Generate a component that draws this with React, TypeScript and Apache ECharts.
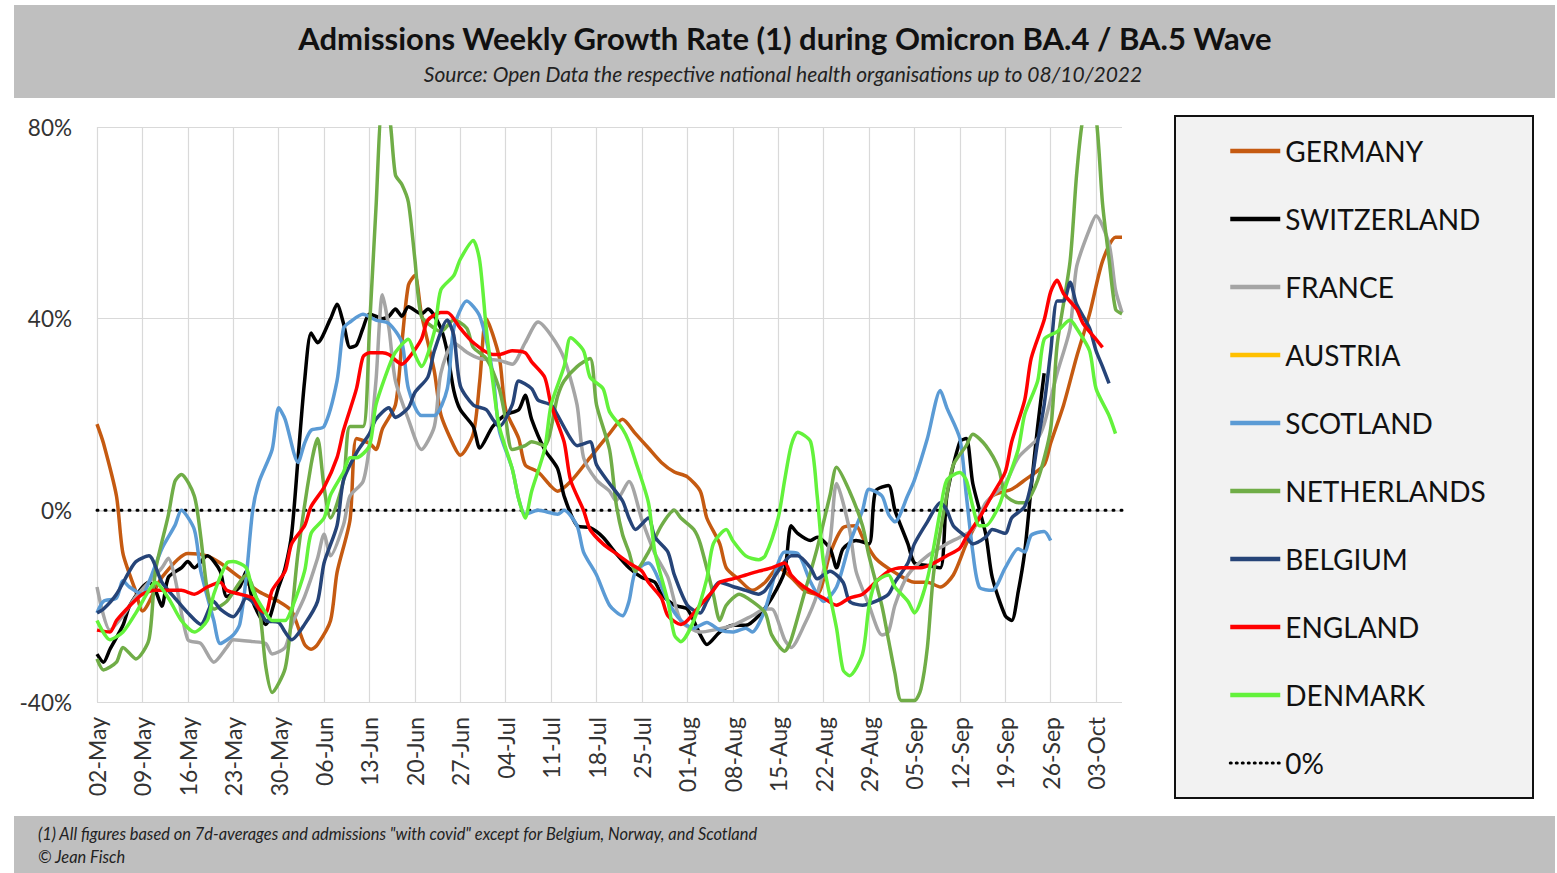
import React, { useEffect, useRef } from "react";
import * as echarts from "echarts";

// Weekly tick labels (one every 7 days, day 0 = 02-May)
const tickLabels = [
  "02-May", "09-May", "16-May", "23-May", "30-May", "06-Jun", "13-Jun", "20-Jun",
  "27-Jun", "04-Jul", "11-Jul", "18-Jul", "25-Jul", "01-Aug", "08-Aug", "15-Aug",
  "22-Aug", "29-Aug", "05-Sep", "12-Sep", "19-Sep", "26-Sep", "03-Oct",
];
const dayCount = 159;

// [day index, weekly growth rate %]
const germany = [
  [0, 18], [1, 14], [3, 3], [4, -9], [6, -17], [7, -21], [10, -14], [14, -9], [17, -9.5], [19, -11],
  [22, -14], [25, -17], [28, -19], [30, -21], [32, -28], [33, -29], [34, -28], [36, -23], [37, -13],
  [39, -2], [40, 15], [42, 14], [43, 12.7], [44, 17], [46, 22], [47, 35], [48, 47], [49, 49], [50, 41],
  [52, 29], [53, 20], [55, 13.5], [56, 11.5], [58, 16], [59, 27], [60, 40], [62, 32], [63, 21],
  [65, 15], [66, 9.5], [68, 8], [70, 5], [71, 4], [73, 6], [76, 11], [79, 16], [81, 19], [83, 16],
  [85, 13], [87, 10], [89, 8], [91, 7], [93, 4], [94, -1.6], [96, -7], [97, -12], [99, -14.5],
  [101, -16.7], [103, -15], [105, -12], [107, -14], [109, -16.7], [111, -17.5], [113, -9],
  [115, -3.6], [117, -3.2], [118, -5.6], [120, -10], [123, -13], [126, -15], [128, -15], [130, -16],
  [132, -13.5], [134, -7], [136, -1.6], [138, 3], [141, 4.4], [143, 6.3], [146, 9.5], [147, 14],
  [149, 22], [151, 32], [153, 41], [155, 52], [157, 57], [158, 57],
];
const switzerland = [
  [0, -30], [1, -31.7], [2, -29], [4, -24], [5, -20], [7, -16], [8, -15], [9, -16.7], [10, -20],
  [11, -14], [13, -12], [14, -10.7], [15, -12], [17, -9.5], [19, -12.7], [20, -18], [22, -16],
  [23, -12.7], [24, -19], [26, -23.8], [28, -16], [29, -12], [30, -5], [31, 11], [32, 27], [33, 37],
  [34, 35], [36, 40], [37, 43], [38, 39], [39, 34], [40, 34.5], [41, 38], [42, 41], [44, 40],
  [45, 40.5], [46, 42], [47, 40.5], [48, 42.5], [50, 41], [51, 42], [53, 38], [54, 33], [55, 25],
  [56, 21], [58, 17.5], [59, 13], [61, 17.5], [63, 20], [65, 21], [66, 24], [67, 19], [69, 12.7],
  [71, 8.7], [72, 3], [74, -3.2], [76, -3.6], [78, -5.6], [80, -9], [82, -12], [84, -14], [86, -15],
  [87, -17.5], [89, -19.8], [91, -20.6], [93, -26], [94, -28], [96, -25.4], [98, -24], [100, -24],
  [102, -22], [104, -18.3], [106, -12.7], [107, -3.2], [108, -4.8], [110, -6.3], [111, -5.6],
  [113, -8], [114, -12], [115, -8], [117, -6.3], [119, -7], [120, 4], [122, 5.2], [123, 0],
  [125, -7], [126, -11], [128, -11.5], [130, -12], [131, 3], [133, 14.3], [134, 15], [135, 5.6],
  [137, -5], [138, -14], [140, -22], [141, -23], [142, -17], [143, -8.7], [144, 4.8], [145, 17.5],
  [146, 28.6],
];
const france = [
  [0, -16], [2, -25], [4, -22], [6, -18], [8, -15], [10, -12], [11, -10], [12, -14], [14, -27],
  [16, -27.8], [18, -31.7], [20, -28.6], [21, -27], [24, -27.4], [26, -27.8], [27, -30], [29, -28.6],
  [30, -24], [32, -18], [34, -10], [35, -5], [36, -9.5], [38, -3], [39, 3], [41, 6], [42, 13.5],
  [43, 27], [44, 45], [45, 38], [46, 27], [48, 19], [50, 12.7], [52, 17.5], [53, 28.6], [55, 35],
  [57, 33], [59, 31.7], [62, 31.3], [64, 30.5], [66, 35], [68, 39.3], [70, 36.5], [72, 31.7],
  [74, 22], [75, 11], [77, 6.3], [79, 4], [80, 2], [82, 6], [84, -2], [86, -9], [88, -14], [90, -23],
  [93, -25.4], [95, -25], [98, -24], [101, -22], [103, -20.6], [104, -20.6], [106, -27], [107, -28.6],
  [109, -24], [111, -17.5], [113, -6.3], [114, 5.6], [116, -4], [117, -12.7], [119, -19.8],
  [121, -26], [122, -25.4], [123, -19.8], [125, -13.5], [128, -9.5], [131, -7], [133, -5.6],
  [135, -4], [137, 1.6], [140, 5.6], [142, 11], [145, 15], [146, 18], [148, 28.6], [150, 38],
  [151, 50.8], [153, 58.7], [154, 61.5], [156, 55.6], [157, 46], [158, 41.3],
];
const austria: number[][] = [];
const scotland = [
  [0, -21.4], [1, -19], [3, -18.3], [4, -14.7], [5, -16], [7, -17.5], [8, -15], [10, -8], [12, -3.2],
  [13, 0], [15, -4], [16, -12.7], [18, -23], [19, -27.8], [21, -26], [22, -23.8], [23, -14], [24, 0],
  [25, 6], [27, 12.7], [28, 21.4], [29, 19], [31, 10], [32, 14], [33, 16.7], [35, 17.5], [37, 27],
  [38, 38], [39, 39.3], [41, 40.9], [43, 39.7], [45, 39], [47, 35], [48, 25.4], [50, 19.8],
  [52, 19.8], [54, 25.4], [55, 38], [57, 43.7], [59, 40.5], [61, 28.6], [62, 16.7], [64, 8.7],
  [65, 2.4], [66, -0.8], [68, 0], [71, -0.8], [72, 0], [74, -3.2], [75, -8.7], [77, -13.5],
  [79, -19.8], [81, -22], [82, -19], [83, -12.7], [85, -11], [86, -12.7], [88, -19], [90, -23],
  [92, -24.6], [94, -23.4], [96, -25], [98, -25.4], [100, -24.6], [101, -25.4], [103, -20.6],
  [105, -11], [106, -8.7], [108, -9], [110, -15], [112, -19], [114, -16], [116, -7], [118, 0],
  [119, 4.4], [121, 3], [122, -0.8], [123, -2.4], [125, 3.2], [126, 6.3], [128, 15], [130, 25],
  [131, 21.4], [133, 15], [134, 3.2], [135, -8.7], [136, -16], [138, -16.7], [140, -12], [142, -8],
  [143, -8.7], [144, -5.2], [146, -4.4], [147, -6.3],
];
const netherlands = [
  [0, -31], [1, -33.3], [3, -31.7], [4, -28.6], [6, -31], [8, -27], [9, -12.7], [11, -1], [12, 6],
  [13, 7.5], [15, 3], [16, -5.6], [17, -16.7], [18, -20.6], [20, -19], [22, -15], [23, -13.5],
  [25, -20.6], [26, -32.5], [27, -38], [29, -33], [30, -22], [31, -8.7], [33, 9.5], [34, 15],
  [35, 4.8], [36, -1.6], [38, 6.3], [39, 17.5], [41, 17.5], [42, 38], [43, 63], [44, 84], [45, 83],
  [46, 70], [47, 68], [48, 64.3], [49, 52.4], [50, 40.5], [52, 38], [53, 37.3], [55, 39.7], [57, 38],
  [58, 34], [60, 31.7], [62, 25.4], [63, 19], [64, 12.7], [66, 13.5], [67, 14.3], [69, 13.5],
  [71, 23.8], [72, 27], [74, 30], [76, 31.7], [77, 22], [79, 12.7], [80, 1.6], [81, -5], [82, -8.7],
  [83, -12.7], [85, -8.7], [87, -3.2], [89, 0], [90, -1.6], [92, -4], [93, -7], [95, -17.5],
  [96, -23], [97, -19.8], [99, -17.5], [101, -19], [103, -21.4], [104, -26], [106, -29.4],
  [107, -27], [109, -17.5], [111, -8], [113, 3.2], [114, 9], [116, 4], [118, -3.2], [119, -9.5],
  [121, -20], [122, -27], [123, -34], [124, -39.7], [126, -39.7], [127, -37.3], [128, -28.6],
  [129, -12.7], [131, 3.2], [132, 9.5], [134, 13.5], [135, 15.9], [137, 13.5], [139, 8.7], [140, 3.2],
  [142, 1.6], [143, 1.6], [145, 6.3], [147, 17], [148, 34.5], [150, 52], [151, 70], [152, 82],
  [153, 84], [154, 82], [155, 64], [156, 52.4], [157, 42], [158, 41],
];
const belgium = [
  [0, -21.4], [1, -20.6], [3, -17.5], [5, -12.7], [6, -10.7], [8, -9.5], [10, -15], [12, -18.3],
  [14, -21.4], [16, -23.8], [18, -19], [19, -20.6], [21, -22.2], [22, -20.6], [23, -18.3],
  [25, -20.6], [26, -23], [28, -23.4], [29, -25.4], [30, -27], [32, -23.8], [34, -19], [35, -11],
  [37, -3.2], [38, 6.3], [40, 12], [42, 16], [43, 19], [45, 21.4], [46, 19.4], [48, 21.4], [49, 24.6],
  [51, 27.8], [52, 33.3], [54, 39.7], [55, 36.5], [56, 26], [58, 22], [60, 21], [61, 19], [62, 17.5],
  [64, 22], [65, 27], [67, 25.4], [68, 23], [70, 22], [71, 19.8], [73, 15], [74, 13.5], [76, 14.3],
  [77, 9.5], [79, 5.6], [81, 2], [82, -1.6], [83, -4], [85, -1.6], [86, -5.6], [88, -8.7], [89, -13.5],
  [91, -19.8], [93, -21.4], [94, -19], [96, -15], [98, -15.9], [100, -16.7], [102, -17.5],
  [103, -16.7], [105, -12.7], [107, -9.5], [108, -9.5], [110, -12], [111, -14.3], [113, -12.7],
  [115, -15], [116, -19], [118, -19.8], [120, -19], [122, -17.5], [123, -15], [125, -11], [126, -7],
  [128, -2.4], [130, 1.6], [131, 0], [132, -3.2], [134, -5.6], [135, -7], [137, -5.6], [138, -4],
  [140, -4.8], [141, -1.6], [143, 0.8], [144, 5.6], [145, 14.3], [146, 22], [147, 33], [148, 43.7],
  [149, 43.7], [150, 47.6], [151, 43], [153, 38], [154, 33.3], [155, 30], [156, 26.5],
];
const england = [
  [0, -25], [2, -25.4], [3, -23], [5, -20], [7, -17.5], [9, -16.7], [11, -16.7], [13, -16.7],
  [15, -17.5], [17, -16], [19, -15], [20, -16.7], [22, -17.5], [24, -18.3], [25, -20.6], [26, -21.4],
  [27, -16.7], [29, -12.7], [30, -7], [32, -3.2], [33, 0.8], [35, 4.8], [37, 11], [38, 16.7],
  [40, 25.4], [41, 32], [42, 32.9], [44, 32.9], [45, 32.5], [47, 30.5], [48, 31.7], [50, 35.7],
  [51, 39.7], [53, 41.3], [54, 41.3], [56, 38], [58, 35], [61, 32.5], [62, 32.5], [64, 33.3],
  [66, 32.9], [67, 31], [69, 27.8], [70, 22], [72, 14.3], [73, 6.3], [75, 0], [76, -4], [78, -7],
  [80, -9], [82, -11], [84, -12.7], [85, -15], [87, -18.3], [88, -22], [90, -23.8], [91, -23],
  [93, -19.8], [95, -16.7], [96, -15], [98, -14.3], [100, -13.5], [102, -12.7], [104, -12],
  [106, -11], [107, -13.5], [109, -16], [112, -18.3], [114, -19.8], [116, -18.3], [118, -17.5],
  [120, -15], [122, -12.7], [124, -12], [127, -12], [129, -11], [131, -9.5], [133, -7.9],
  [134, -5.6], [136, -1.6], [138, 3.2], [140, 8], [141, 14.3], [143, 23], [144, 31.7], [146, 39.7],
  [147, 45.6], [148, 48], [149, 45.2], [151, 42], [152, 39], [154, 35.7], [155, 34],
];
const denmark = [
  [0, -23], [2, -27], [4, -25.4], [6, -21.4], [8, -16.7], [9, -15], [11, -18.3], [13, -23], [15, -25.4],
  [17, -23], [18, -17.5], [20, -11], [21, -10.7], [23, -12], [24, -16.7], [26, -21.4], [27, -23],
  [29, -23], [30, -20.6], [32, -12.7], [33, -4.8], [35, -1.6], [36, 3.2], [38, 8], [39, 11], [40, 11],
  [42, 13.5], [43, 22], [45, 30], [46, 33], [48, 35.7], [49, 32.5], [50, 30], [52, 37.3], [53, 46],
  [55, 49], [56, 52.4], [58, 56.3], [59, 52], [60, 38], [61, 27], [62, 17.5], [64, 8.7], [65, 2.4],
  [66, -1.6], [67, 4], [69, 12.7], [70, 22], [72, 30], [73, 36], [75, 33.3], [76, 27.8], [78, 25.4],
  [79, 20.6], [81, 17], [82, 14.3], [83, 10.3], [85, 1.6], [86, -8.7], [88, -19], [89, -26],
  [90, -27.4], [92, -23], [94, -14.3], [95, -7], [97, -4], [98, -6.3], [100, -9.5], [102, -10.3],
  [103, -9.5], [105, -1.6], [106, 6.3], [107, 13.5], [108, 16.3], [110, 14.3], [111, 3.2],
  [112, -11], [114, -24.6], [115, -33.3], [116, -34.5], [118, -30], [119, -20], [120, -15],
  [122, -13.5], [123, -16], [125, -19], [126, -21.4], [128, -14.3], [130, 0], [131, 6.3], [133, 7.9],
  [134, 6.3], [135, 0.8], [136, -3.2], [137, -3.2], [139, 0.8], [140, 4.8], [142, 12.7], [143, 20],
  [145, 27], [146, 35.7], [148, 37.3], [150, 39.7], [151, 38], [153, 33.3], [154, 25.4], [156, 19.8],
  [157, 16],
];
const zeroLine = [[0, 0], [158, 0]];

const seriesNames = [
  "GERMANY", "SWITZERLAND", "FRANCE", "AUSTRIA", "SCOTLAND",
  "NETHERLANDS", "BELGIUM", "ENGLAND", "DENMARK",
];
const seriesColors = [
  "#C55A11", "#000000", "#A5A5A5", "#FFC000", "#5B9BD5",
  "#70AD47", "#264478", "#FF0000", "#63F23B",
];
const seriesData = [
  germany, switzerland, france, austria, scotland,
  netherlands, belgium, england, denmark,
];

const FONT = "Lato";

export default function App() {
  const ref = useRef<HTMLDivElement>(null);

  useEffect(() => {
    if (!ref.current) return;
    const chart = echarts.init(ref.current, undefined, { renderer: "svg" });
    const categories = Array.from({ length: dayCount }, (_, i) => String(i));

    const lineSeries: any[] = seriesNames.map((name, i) => ({
      name,
      type: "line",
      data: seriesData[i],
      symbol: "none",
      smooth: 0.25,
      lineStyle: { color: seriesColors[i], width: 3.5 },
      itemStyle: { color: seriesColors[i] },
      z: 3 + i,
    }));
    lineSeries.push({
      name: "0%",
      type: "line",
      data: zeroLine,
      symbol: "none",
      lineStyle: { color: "#000", width: 3, type: [1, 7], cap: "round" },
      itemStyle: { color: "#000" },
      z: 2,
    });

    const legendData: any[] = seriesNames.map((name) => ({ name }));
    legendData.push({ name: "0%", lineStyle: { width: 3, type: [1, 5], cap: "round" } });

    chart.setOption({
      animation: false,
      backgroundColor: "#fff",
      textStyle: { fontFamily: FONT },
      graphic: [
        { type: "rect", shape: { x: 14, y: 5, width: 1541, height: 93 }, style: { fill: "#BFBFBF" }, silent: true, z: -10 },
        { type: "rect", shape: { x: 14, y: 816, width: 1541, height: 60 }, style: { fill: "#BFBFBF" }, silent: true, z: -10 },
        { type: "rect", shape: { x: 1175, y: 116, width: 358, height: 682 }, style: { fill: "#F2F2F2", stroke: "#111", lineWidth: 2 }, silent: true, z: -10 },
        {
          type: "text", x: 785, y: 38,
          style: {
            text: "Admissions Weekly Growth Rate (1) during Omicron BA.4 / BA.5 Wave",
            font: `bold 31px ${FONT}`, fill: "#111", align: "center", verticalAlign: "middle",
          },
        },
        {
          type: "text", x: 783, y: 73,
          style: {
            text: "Source: Open Data the respective national health organisations up to 08/10/2022",
            font: `italic 21px ${FONT}`, fill: "#222", align: "center", verticalAlign: "middle",
          },
        },
        {
          type: "text", x: 38, y: 833,
          style: {
            text: "(1) All figures based on 7d-averages and admissions \"with covid\" except for Belgium, Norway, and Scotland",
            font: `italic 16.4px ${FONT}`, fill: "#222", align: "left", verticalAlign: "middle",
          },
        },
        {
          type: "text", x: 38, y: 856,
          style: { text: "© Jean Fisch", font: `italic 16.4px ${FONT}`, fill: "#222", align: "left", verticalAlign: "middle" },
        },
      ],
      legend: {
        orient: "vertical",
        left: 1223,
        top: 131,
        itemWidth: 50,
        itemHeight: 14,
        itemGap: 38,
        data: legendData,
        itemStyle: { opacity: 0, borderWidth: 0 },
        lineStyle: { width: 4.5 },
        textStyle: { fontFamily: FONT, fontSize: 28, color: "#111", lineHeight: 30 },
      },
      grid: { left: 97, top: 127, width: 1025, height: 575, containLabel: false },
      xAxis: {
        type: "category",
        data: categories,
        boundaryGap: false,
        axisLine: { show: true, lineStyle: { color: "#D9D9D9", width: 1.5 } },
        axisTick: { show: false },
        splitLine: { show: true, interval: 6, lineStyle: { color: "#D9D9D9", width: 1.2 } },
        axisLabel: {
          interval: 6,
          rotate: 90,
          margin: 15,
          fontSize: 23,
          color: "#333",
          fontFamily: FONT,
          formatter: (v: string) => tickLabels[Number(v) / 7] ?? "",
        },
      },
      yAxis: {
        type: "value",
        min: -40,
        max: 80,
        interval: 40,
        axisLine: { show: false },
        axisTick: { show: false },
        splitLine: { show: true, lineStyle: { color: "#D9D9D9", width: 1.2 } },
        axisLabel: { formatter: "{value}%", fontSize: 22.5, color: "#333", margin: 25, fontFamily: FONT },
      },
      series: lineSeries,
    });

    return () => chart.dispose();
  }, []);

  return (
    <div
      ref={ref}
      style={{ position: "fixed", left: 0, top: 0, width: 1557, height: 873, background: "#fff" }}
    />
  );
}
